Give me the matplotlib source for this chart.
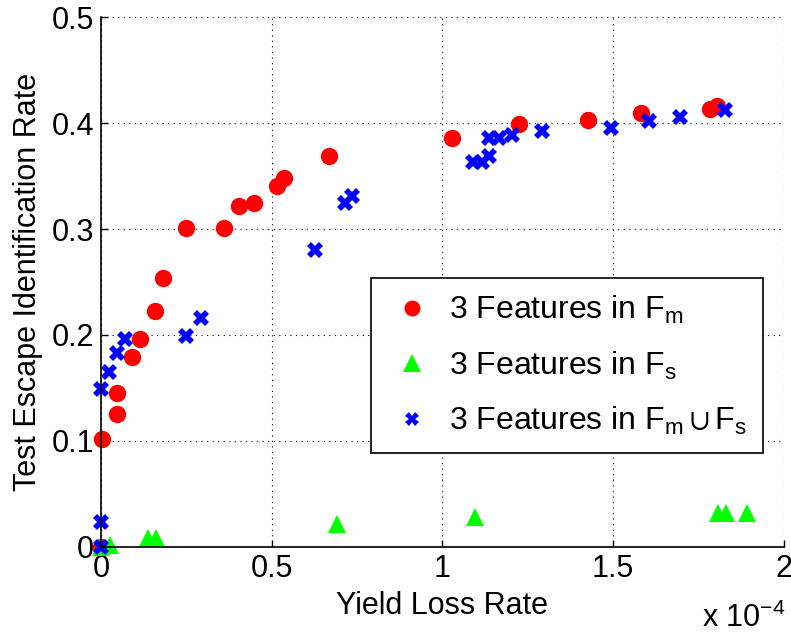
import matplotlib
matplotlib.use("Agg")
import matplotlib.pyplot as plt

plt.rcParams['font.family'] = ['Liberation Sans', 'DejaVu Sans']
plt.rcParams['mathtext.fontset'] = 'custom'
plt.rcParams['mathtext.rm'] = 'Liberation Sans'
plt.rcParams['mathtext.it'] = 'Liberation Sans'

# x values in units of 1e-4
fm_x = [0.0, 0.003, 0.047, 0.047, 0.09, 0.114, 0.158, 0.181, 0.248, 0.359, 0.403, 0.447,
        0.517, 0.537, 0.668, 1.027, 1.226, 1.427, 1.582, 1.783, 1.804]
fm_y = [0.0, 0.102, 0.145, 0.125, 0.179, 0.196, 0.223, 0.254, 0.301, 0.301, 0.322, 0.325,
        0.341, 0.348, 0.369, 0.386, 0.399, 0.403, 0.409, 0.413, 0.416]

fs_x = [0.0, 0.026, 0.137, 0.16, 0.692, 1.095, 1.807, 1.83, 1.894]
fs_y = [0.0, 0.002, 0.0085, 0.0085, 0.022, 0.028, 0.032, 0.032, 0.032]

fu_x = [0.0, 0.0, 0.0, 0.023, 0.047, 0.07, 0.248, 0.292, 0.628, 0.715, 0.736,
        1.09, 1.117, 1.138, 1.136, 1.165, 1.205, 1.293, 1.494, 1.605, 1.696, 1.827]
fu_y = [0.0, 0.024, 0.149, 0.165, 0.183, 0.196, 0.199, 0.216, 0.280, 0.325, 0.331,
        0.363, 0.363, 0.369, 0.386, 0.386, 0.389, 0.392, 0.395, 0.402, 0.406, 0.412]

x_ticks = [0, 0.5, 1, 1.5, 2]
x_tick_labels = ['0', '0.5', '1', '1.5', '2']
y_ticks = [0, 0.1, 0.2, 0.3, 0.4, 0.5]
y_tick_labels = ['0', '0.1', '0.2', '0.3', '0.4', '0.5']

FS = 22

fig = plt.figure(figsize=(7.91, 6.37), dpi=100)
ax = fig.add_axes([0.1277, 0.1413, 0.8630, 0.8320])

ax.plot(fm_x, fm_y, 'o', color='#ff0000', markersize=12.5, markeredgewidth=0,
        label='3 Features in $\\mathregular{F_m}$', zorder=3, clip_on=False)
ax.plot(fs_x, fs_y, '^', color='#00ff00', markersize=13, markeredgewidth=0,
        label='3 Features in $\\mathregular{F_s}$', zorder=3, clip_on=False)
ax.plot(fu_x, fu_y, 'X', color='#0000ff', markersize=11, markeredgewidth=0,
        label='3 Features in $\\mathregular{F_m \\cup F_s}$', zorder=4, clip_on=False)

ax.set_xlim(0, 2)
ax.set_ylim(0, 0.5)
ax.set_xticks(x_ticks)
ax.set_xticklabels(x_tick_labels)
ax.set_yticks(y_ticks)
ax.set_yticklabels(y_tick_labels)
ax.tick_params(axis='both', direction='in', labelsize=FS, length=5, width=1, pad=5)
ax.grid(True, color='black', linestyle=(0, (1, 4)), linewidth=0.8)
ax.set_axisbelow(True)
for s in ['top', 'right']:
    ax.spines[s].set_visible(False)
for s in ['left', 'bottom']:
    ax.spines[s].set_linewidth(1.2)
    ax.spines[s].set_zorder(5)

ax.set_xlabel('Yield Loss Rate', fontsize=FS, labelpad=5)
ax.set_ylabel('Test Escape Identification Rate', fontsize=FS, labelpad=6)

fig.text(0.888, 0.005, 'x $\\mathregular{10^{-4}}$', fontsize=FS, ha='left', va='bottom')

leg = ax.legend(loc='upper left', bbox_to_anchor=(0.396, 0.508), fontsize=23,
                frameon=True, fancybox=False, edgecolor='black', framealpha=1,
                borderpad=0.5, labelspacing=0.74, handletextpad=0.38, borderaxespad=0,
                handlelength=1.56)
leg.get_frame().set_linewidth(1.2)
for h, ms in zip(leg.legend_handles, [11.5, 12.5, 10]):
    h.set_markersize(ms)

fig.savefig('out.png', dpi=100)
